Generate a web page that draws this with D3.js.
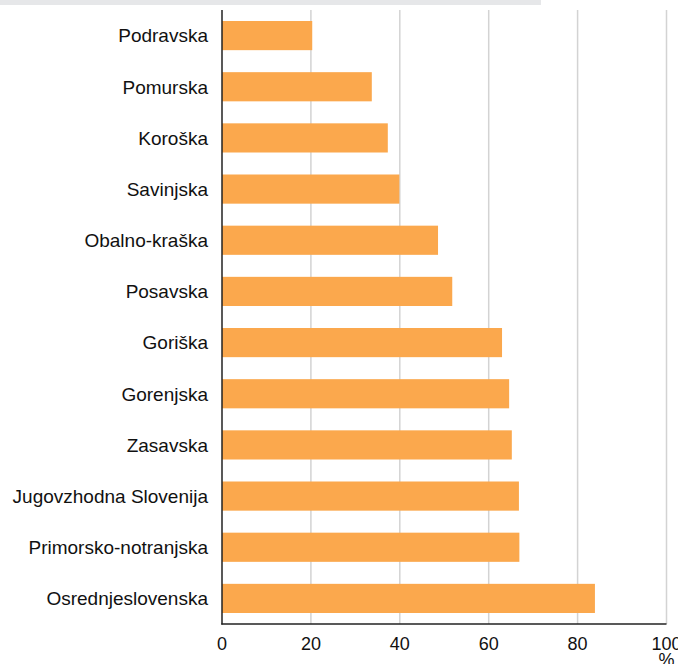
<!DOCTYPE html>
<html><head><meta charset="utf-8">
<script src="https://cdn.jsdelivr.net/npm/d3@7"></script>
<style>body{margin:0;background:#fff}</style>
</head><body>
<svg id="c" width="678" height="664"></svg>
<script>
const categories = ["Podravska","Pomurska","Koroška","Savinjska","Obalno-kraška","Posavska","Goriška","Gorenjska","Zasavska","Jugovzhodna Slovenija","Primorsko-notranjska","Osrednjeslovenska"];
const values = [20.3, 33.7, 37.3, 39.9, 48.6, 51.8, 63.0, 64.6, 65.2, 66.8, 66.9, 83.9];
const ticks = [0,20,40,60,80,100];

const svg = d3.select("#c");
const font = "'Liberation Sans', Arial, sans-serif";
svg.append("rect").attr("x",0).attr("y",0).attr("width",541).attr("height",5).attr("fill","#e6e7e9");

const x = d3.scaleLinear().domain([0,100]).range([222,666.5]);
const y = d3.scaleBand().domain(categories).range([10,624]).paddingInner(0.43).paddingOuter(0.215);

svg.append("g").selectAll("line").data(ticks.slice(1)).join("line")
  .attr("x1",d=>x(d)).attr("x2",d=>x(d)).attr("y1",10).attr("y2",624)
  .attr("stroke","#d3d3d3").attr("stroke-width",1.5);

svg.append("g").selectAll("rect").data(values).join("rect")
  .attr("x",x(0)).attr("y",(d,i)=>y(categories[i]))
  .attr("width",d=>x(d)-x(0)).attr("height",y.bandwidth())
  .attr("fill","#fba84d");

svg.append("line").attr("x1",x(0)).attr("x2",x(0)).attr("y1",10).attr("y2",624.5).attr("stroke","#222").attr("stroke-width",1.5);
svg.append("line").attr("x1",x(0)-0.75).attr("x2",x(100)).attr("y1",624).attr("y2",624).attr("stroke","#222").attr("stroke-width",1.5);

svg.append("g").selectAll("text").data(categories).join("text")
  .attr("x",208).attr("y",d=>y(d)+y.bandwidth()/2).attr("dy","0.36em")
  .attr("text-anchor","end").attr("font-family",font).attr("font-size",19).attr("fill","#111")
  .text(d=>d);

svg.append("g").selectAll("text").data(ticks).join("text")
  .attr("x",d=>x(d)).attr("y",650).attr("text-anchor","middle")
  .attr("font-family",font).attr("font-size",18).attr("fill","#111").text(d=>d);

svg.append("text").attr("x",x(100)).attr("y",666).attr("text-anchor","middle")
  .attr("font-family",font).attr("font-size",18).attr("fill","#111").text("%");
</script>
</body></html>
